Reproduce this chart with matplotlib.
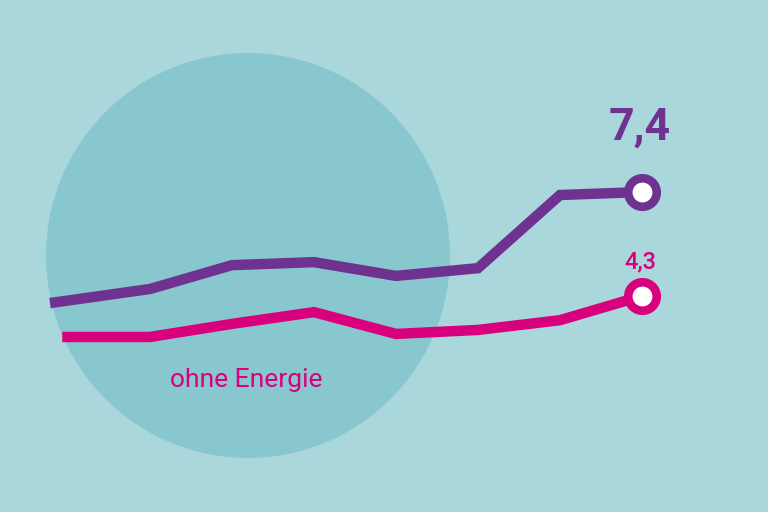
import matplotlib
matplotlib.use("Agg")
import matplotlib.pyplot as plt
from matplotlib.patches import Ellipse

### DATA
x_purple = [-0.22, 1, 2, 3, 4, 5, 6, 7]
purple = [4.09, 4.51, 5.22, 5.31, 4.90, 5.13, 7.31, 7.4]
x_magenta = [-0.07, 1, 2, 3, 4, 5, 6, 7]
magenta = [3.08, 3.08, 3.47, 3.82, 3.17, 3.29, 3.58, 4.3]
label_purple = "7,4"
label_magenta = "4,3"
caption = "ohne Energie"

### COLOURS
bg = "#a9d7dc"
circle_col = "#89c7cf"
col_purple = "#6f3290"
col_magenta = "#d8007c"

fig = plt.figure(figsize=(7.68, 5.12), dpi=100, facecolor=bg)
ax = fig.add_axes([0, 0, 1, 1])
ax.set_facecolor(bg)
ax.set_xlim(-68 / 82, (768 - 68) / 82)
ax.set_ylim(7.4 - 320 * 0.0298, 7.4 + 192 * 0.0298)
ax.axis("off")

# big background circle (axes coords so it stays round in pixels)
ax.add_patch(Ellipse((248 / 768, 1 - 255.5 / 512), 404 / 768, 405 / 512,
                     transform=ax.transAxes, color=circle_col, zorder=0, lw=0))

ax.plot(x_purple, purple, color=col_purple, lw=7.5, solid_joinstyle="miter",
        solid_capstyle="butt", zorder=2)
ax.plot(x_magenta, magenta, color=col_magenta, lw=7.5, solid_joinstyle="miter",
        solid_capstyle="butt", zorder=2)

# end markers
ax.plot(x_purple[-1], purple[-1], "o", ms=20.5, mew=6.2, mfc="white",
        mec=col_purple, zorder=3)
ax.plot(x_magenta[-1], magenta[-1], "o", ms=20.5, mew=6.2, mfc="white",
        mec=col_magenta, zorder=3)

fam = ["Roboto", "DejaVu Sans"]
ax.annotate(label_purple, (x_purple[-1], purple[-1]), xytext=(-2, 31),
            textcoords="offset points", ha="center", va="bottom",
            fontsize=32, fontweight="bold", color=col_purple, family=fam)
ax.annotate(label_magenta, (x_magenta[-1], magenta[-1]), xytext=(-1, 16),
            textcoords="offset points", ha="center", va="bottom",
            fontsize=17, fontweight="medium", color=col_magenta, family=fam)
ax.text(246 / 768, 1 - 380 / 512, caption, transform=ax.transAxes,
        ha="center", va="center", fontsize=19, color=col_magenta, family=fam)

fig.savefig("out.png", dpi=100, facecolor=bg)
